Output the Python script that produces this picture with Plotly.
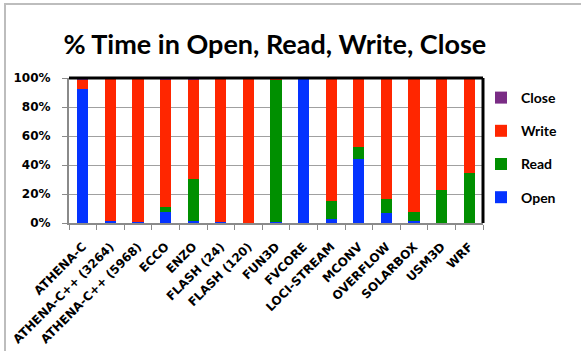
import plotly.graph_objects as go

categories = ["ATHENA-C", "ATHENA-C++ (3264)", "ATHENA-C++ (5968)", "ECCO", "ENZO",
              "FLASH (24)", "FLASH (120)", "FUN3D", "FVCORE", "LOCI-STREAM", "MCONV",
              "OVERFLOW", "SOLARBOX", "USM3D", "WRF"]
open_pct  = [92.5, 1.2, 0.6, 7.7, 1.4, 1.0, 0.3, 0.7, 100.0, 2.8, 44.0, 7.0, 1.6, 0.0, 0.0]
read_pct  = [0.0, 0.0, 0.0, 3.2, 28.8, 0.0, 0.0, 97.9, 0.0, 12.3, 8.3, 9.7, 6.1, 22.8, 34.2]
write_pct = [6.5, 98.8, 99.4, 88.1, 68.8, 99.0, 99.7, 1.4, 0.0, 84.6, 47.2, 83.3, 92.3, 77.2, 65.8]
close_pct = [1.0, 0.0, 0.0, 1.0, 1.0, 0.0, 0.0, 0.0, 0.0, 0.3, 0.5, 0.0, 0.0, 0.0, 0.0]

series = [("Open", open_pct, "#0433FF"), ("Read", read_pct, "#008F00"),
          ("Write", write_pct, "#FF2600"), ("Close", close_pct, "#7A2C85")]

TITLE_FONT = "Lato"
TICK_FONT = "DejaVu Sans"
fig = go.Figure()
n = len(series)
for i, (name, vals, col) in enumerate(series):
    fig.add_trace(go.Bar(x=categories, y=vals, name=name, marker_color=col,
                         marker_line_width=0, width=0.4, legendgroup=name,
                         legendrank=n - i))

L, R, T, B = 69, 98, 78, 128
W, H = 581, 351
pw, ph = W - L - R, H - T - B

fig.update_layout(
    width=W, height=H, barmode="stack",
    margin=dict(l=L, r=R, t=T, b=B, autoexpand=False),
    paper_bgcolor="white", plot_bgcolor="white",
    font=dict(family=TITLE_FONT, color="black", size=12, weight="bold"),
    title=dict(text="% Time in Open, Read, Write, Close", x=0.473, xanchor="center",
               y=1 - 45 / H, yanchor="middle",
               font=dict(family=TITLE_FONT, size=27, weight="bold", color="black")),
    showlegend=True,
    legend=dict(x=(481 - L) / pw, xanchor="left", y=(223 - 82) / ph,
                yanchor="top", traceorder="grouped", tracegroupgap=12, itemwidth=30,
                font=dict(family=TITLE_FONT, size=14, weight="bold"),
                bgcolor="rgba(0,0,0,0)"),
)
fig.update_xaxes(showline=True, linecolor="#8a8a8a", linewidth=2, ticks="outside",
                 tickson="boundaries", ticklen=5, tickcolor="#8a8a8a", tickwidth=1,
                 tickangle=-45, ticklabelstandoff=10, automargin=False,
                 tickfont=dict(family=TICK_FONT, size=12, weight="bold"),
                 showgrid=False)
fig.update_yaxes(range=[0, 100], dtick=20, ticksuffix="%", showline=True,
                 linecolor="#8a8a8a", linewidth=2, ticks="outside", ticklen=5,
                 tickcolor="#8a8a8a", showgrid=True, gridcolor="#a0a0a0", gridwidth=1,
                 ticklabelstandoff=9, automargin=False,
                 tickfont=dict(family=TICK_FONT, size=12, weight="bold"), zeroline=False)
# black frame top/right
fig.add_shape(type="line", xref="paper", yref="paper", x0=0, x1=1, y0=1, y1=1,
              line=dict(color="black", width=3))
fig.add_shape(type="line", xref="paper", yref="paper", x0=1, x1=1, y0=0, y1=1,
              line=dict(color="black", width=3))
# outer chart border (gray), visible on left and top
fig.add_shape(type="rect", xref="paper", yref="paper",
              x0=(5 - L) / pw, x1=3, y0=-3, y1=(223 - 4) / ph,
              line=dict(color="#bdbdbd", width=2), layer="below")

fig.write_html("out.html")
